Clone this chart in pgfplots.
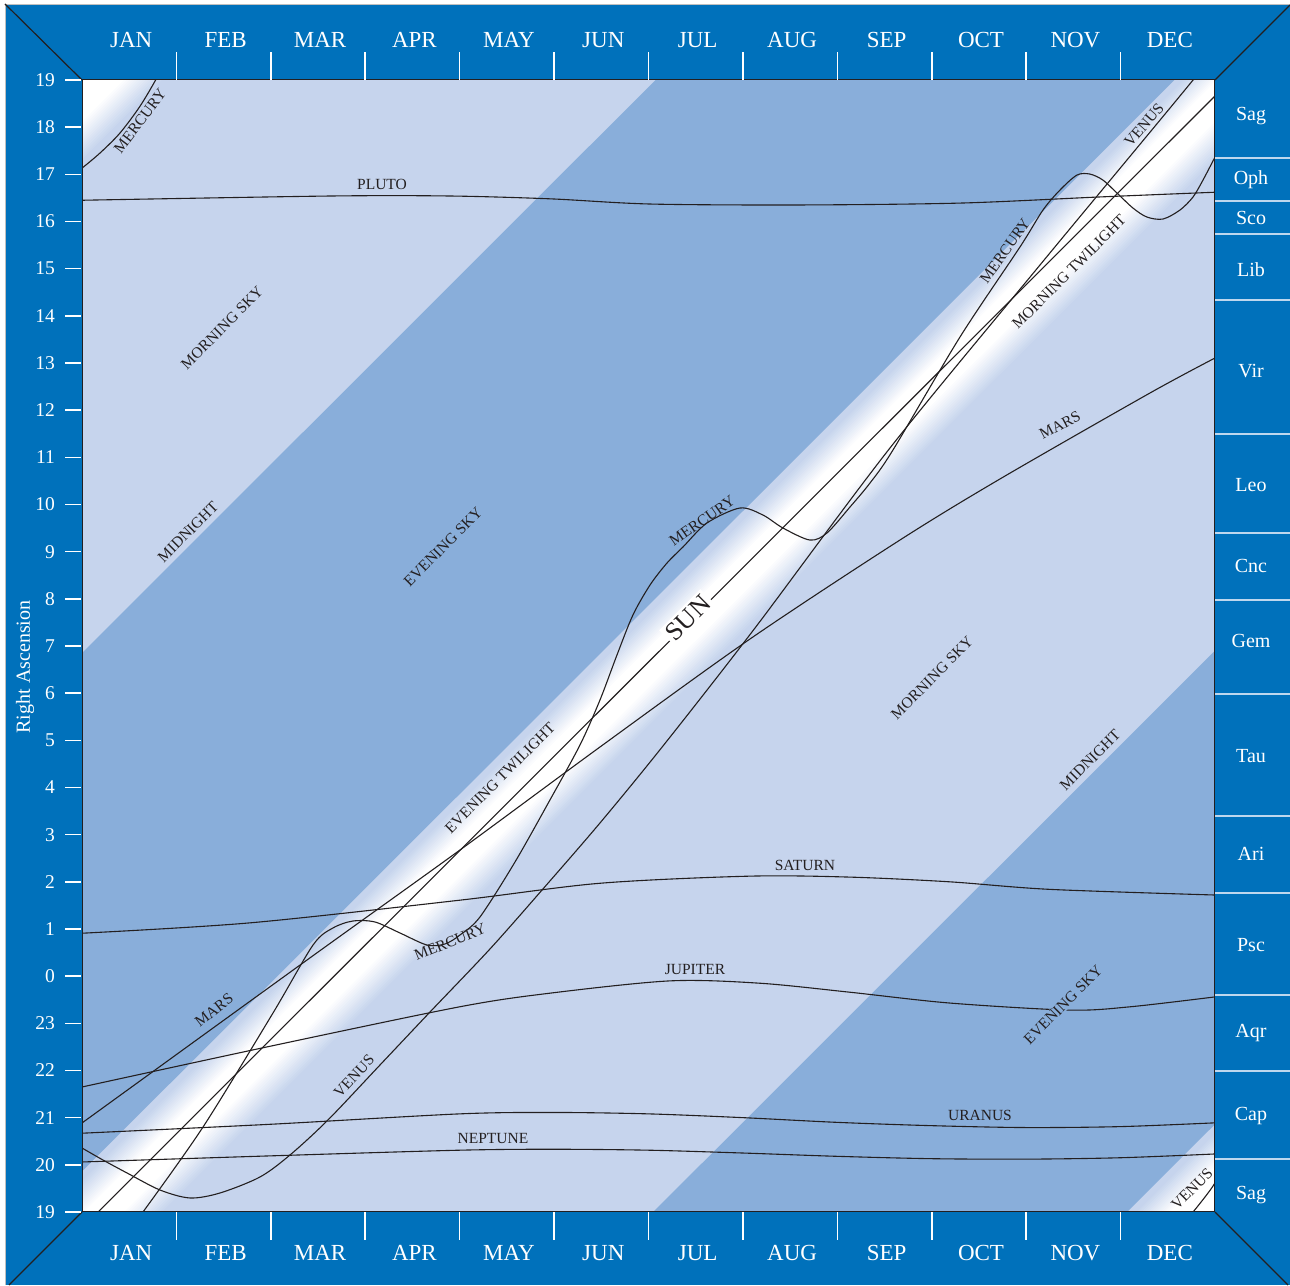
\documentclass[border=0pt]{standalone}
\usepackage{pgfplots}
\pgfplotsset{compat=1.18}
\usepackage{pgfplotstable}
\usepackage{fontspec}
\setmainfont{Liberation Serif}
\definecolor{bluec}{RGB}{0,113,187}
\definecolor{lightc}{RGB}{198,212,237}
\definecolor{medc}{RGB}{137,174,218}
\definecolor{inkc}{RGB}{35,31,32}
\definecolor{sepc}{RGB}{190,215,238}

% sun line (month, hours after 19h) used to build the twilight band
\pgfplotstableread{
m s k
0 -0.34 0
12 23.66 0
12 23.66 1
0 -0.34 1
}\bandtab

\pgfplotstableread{
m u
0 21.45
2.63 21.54
3.90 21.54
4.96 21.48
6.02 21.37
7.60 21.35
9.30 21.39
10.78 21.52
12 21.62
}\pluto

\pgfplotstableread{
m u
0 5.91
1.78 6.13
4.0 6.61
5.49 6.97
7.07 7.12
8.13 7.10
9.19 7.00
10.25 6.84
12 6.72
}\saturn

\pgfplotstableread{
m u
0 2.65
1.96 3.50
4.0 4.35
4.96 4.64
6.23 4.90
7.18 4.85
8.13 4.66
9.19 4.43
10.46 4.28
11.1 4.35
12 4.56
}\jupiter

\pgfplotstableread{
m u
0 1.67
2 1.86
4 2.08
5 2.11
6 2.08
7 2.00
8 1.90
9 1.83
10 1.79
11 1.81
12 1.89
}\uranus

\pgfplotstableread{
m u
0 1.06
2 1.19
4 1.31
5 1.33
6 1.31
7 1.25
8 1.18
9 1.13
10 1.12
11 1.15
12 1.23
}\neptune

\pgfplotstableread{
m u
0 1.887
2.383 5.342
4.003 7.674
5.486 9.858
7.075 12.148
8.663 14.246
9.722 15.540
11.311 17.363
12 18.105
}\mars

\pgfplotstableread{
m u
0 1.357
0.222 1.102
0.477 0.827
0.826 0.466
1.144 0.297
1.462 0.403
1.885 0.742
2.203 1.208
2.605 1.950
3.156 3.116
3.686 4.240
4.321 5.576
4.882 6.848
5.486 8.247
6.153 9.879
7.128 12.381
8.557 16.196
10.146 20.076
11.767 23.998
12 24.634
}\venus

\pgfplotstableread{
m u
0 22.13
0.19 22.45
0.40 22.87
0.61 23.43
0.78 24.0
0.85 24.3
}\mercurytop

\pgfplotstableread{
m u
0.646 0.000
1.282 1.802
2.023 4.219
2.447 5.660
2.658 6.021
2.870 6.169
3.103 6.148
3.368 5.915
3.654 5.660
3.844 5.682
4.003 5.872
4.215 6.254
4.586 7.420
4.956 8.734
5.274 9.900
5.486 10.854
5.666 11.808
5.835 12.656
6.016 13.292
6.196 13.759
6.365 14.098
6.619 14.607
6.969 14.925
7.212 14.776
7.424 14.501
7.710 14.246
7.890 14.395
8.134 14.946
8.346 15.455
8.589 16.154
9.299 18.550
9.934 20.458
10.178 21.242
10.358 21.666
10.538 21.984
10.676 22.005
10.813 21.878
10.962 21.603
11.131 21.285
11.279 21.094
11.449 21.052
11.629 21.242
11.767 21.518
11.873 21.878
12.000 22.366
}\mercury

% one stripe of the band: offsets #1,#2 from the sun line, #3 = percent white, #4 = shift
\newcommand{\stripe}[4]{\addplot[draw=none, fill=white!#3!lightc, forget plot] table[x=m, y expr={\thisrow{s}+(#4)+(#1)+\thisrow{k}*((#2)-(#1))}] {\bandtab};}
\newcommand{\sunband}[1]{%
\stripe{1.00}{-1.350}{7}{#1}
\stripe{0.95}{-1.293}{13}{#1}
\stripe{0.90}{-1.236}{20}{#1}
\stripe{0.85}{-1.179}{27}{#1}
\stripe{0.80}{-1.121}{33}{#1}
\stripe{0.75}{-1.064}{40}{#1}
\stripe{0.70}{-1.007}{47}{#1}
\stripe{0.65}{-0.950}{53}{#1}
\stripe{0.60}{-0.893}{60}{#1}
\stripe{0.55}{-0.836}{67}{#1}
\stripe{0.50}{-0.779}{73}{#1}
\stripe{0.45}{-0.721}{80}{#1}
\stripe{0.40}{-0.664}{87}{#1}
\stripe{0.35}{-0.607}{93}{#1}
\stripe{0.30}{-0.550}{100}{#1}
}

\begin{document}
\begin{tikzpicture}[x=1pt,y=1pt]
\fill[white] (-82,-73) rectangle (1208,1212);
\fill[bluec] (-77,-73) rectangle (1208,1208);
\draw[gray!50, line width=0.8pt] (-77,-73) -- (-77,1208) -- (1208,1208);

\begin{axis}[
  at={(0,0)}, anchor=south west,
  scale only axis, width=1133pt, height=1132pt,
  xmin=0, xmax=12, ymin=0, ymax=24,
  axis background/.style={fill=lightc},
  axis line style={draw=inkc, line width=1pt},
  axis on top,
  xtick=\empty, ytick=\empty,
  clip mode=individual,
]
% evening sky (medium blue) bands
\addplot[draw=none, fill=medc, forget plot] table[x=m, y expr={\thisrow{s}+1.2+\thisrow{k}*(12.19-1.2)}] {\bandtab};
\addplot[draw=none, fill=medc, forget plot] table[x=m, y expr={\thisrow{s}-23+1.2+\thisrow{k}*(11.24-1.2)}] {\bandtab};
% twilight band round the sun, and its wrapped copies
\sunband{0}
\sunband{24}
\sunband{-23}

% sun
\addplot[inkc, line width=1.1pt] coordinates {(0,-0.34) (12,23.66)};
% planets
\addplot[inkc, line width=1.1pt, smooth] table[x=m,y=u] {\pluto};
\addplot[inkc, line width=1.1pt, smooth] table[x=m,y=u] {\saturn};
\addplot[inkc, line width=1.1pt, smooth] table[x=m,y=u] {\jupiter};
\addplot[inkc, line width=1.1pt, smooth] table[x=m,y=u] {\uranus};
\addplot[inkc, line width=1.1pt, smooth] table[x=m,y=u] {\neptune};
\addplot[inkc, line width=1.1pt, smooth] table[x=m,y=u] {\mars};
\addplot[inkc, line width=1.1pt, smooth] table[x=m,y=u] {\venus};
\addplot[inkc, line width=1.1pt, smooth] table[x=m,y expr=\thisrow{u}-24] {\venus};
\addplot[inkc, line width=1.1pt, smooth] table[x=m,y=u] {\mercurytop};
\addplot[inkc, line width=1.1pt, smooth, tension=0.5] table[x=m,y=u] {\mercury};
\end{axis}

% corner diagonals
\draw[inkc, line width=1.2pt] (-77,1208) -- (0,1132);
\draw[inkc, line width=1.2pt] (1133,1132) -- (1208,1207);
\draw[inkc, line width=1.2pt] (0,0) -- (-73,-73);
\draw[inkc, line width=1.2pt] (1133,0) -- (1206,-73);

% month separators and labels
\foreach \i in {1,...,11} {
  \draw[white, line width=1.6pt] ({94.42*\i},1132) -- ({94.42*\i},1160);
  \draw[white, line width=1.6pt] ({94.42*\i},0) -- ({94.42*\i},-28);
}
\foreach \mo [count=\i from 0] in {JAN,FEB,MAR,APR,MAY,JUN,JUL,AUG,SEP,OCT,NOV,DEC} {
  \node[white, font=\fontsize{23}{26}\selectfont] at ({94.42*(\i+0.5)+2},1172) {\mo};
  \node[white, font=\fontsize{23}{26}\selectfont] at ({94.42*(\i+0.5)+2},-41) {\mo};
}
% hour ticks and labels
\foreach \k in {0,...,24} {
  \draw[white, line width=1.6pt] (-17,{47.167*\k}) -- (-1,{47.167*\k});
  \pgfmathtruncatemacro\lab{mod(\k+19,24)}
  \node[white, anchor=east, font=\fontsize{19.5}{22}\selectfont, inner sep=0pt] at (-27,{47.167*\k}) {\lab};
}
\node[white, rotate=90, font=\fontsize{20}{22}\selectfont] at (-57,545) {Right Ascension};

% constellations
\foreach \yy in {1054,1011,978,912,778,679,612,518,396,319,217,141,53} {
  \draw[sepc, line width=1.8pt] (1133,\yy) -- (1208,\yy);
}
\foreach \yy/\cn in {1096/Sag,1032/Oph,994/Sco,942/Lib,841/Vir,727/Leo,646/Cnc,571/Gem,456/Tau,358/Ari,267/Psc,179/Aqr,96/Cap,17/Sag} {
  \node[white, font=\fontsize{20}{22}\selectfont] at (1169,\yy) {\cn};
}

% labels in the chart
\begin{scope}[every node/.style={text=inkc, font=\fontsize{15.5}{17}\selectfont, inner sep=1pt}]
\node[rotate=53] at (58,1091) {MERCURY};
\node at (300,1028) {PLUTO};
\node[rotate=45] at (140,884) {MORNING SKY};
\node[rotate=45] at (106,680) {MIDNIGHT};
\node[rotate=45] at (361,665) {EVENING SKY};
\node[rotate=35] at (620,691) {MERCURY};
\node[rotate=55] at (923,961) {MERCURY};
\node[rotate=49] at (1062,1087) {VENUS};
\node[rotate=45] at (987,940) {MORNING TWILIGHT};
\node[rotate=28] at (978,787) {MARS};
\node[rotate=45] at (418,434) {EVENING TWILIGHT};
\node[rotate=45] at (850,534) {MORNING SKY};
\node[rotate=45] at (1008,452) {MIDNIGHT};
\node at (723,347) {SATURN};
\node at (613,242) {JUPITER};
\node[rotate=22] at (368,270) {MERCURY};
\node[rotate=38] at (132,202) {MARS};
\node[rotate=47] at (272,136) {VENUS};
\node[rotate=45, fill=medc] at (981,207) {EVENING SKY};
\node at (898,97) {URANUS};
\node at (411,73) {NEPTUNE};
\node[rotate=45] at (1110,23) {VENUS};
\node[rotate=45, fill=white, inner sep=3pt, font=\fontsize{26}{28}\selectfont] at (606,594) {SUN};
\end{scope}

\pgfresetboundingbox
\useasboundingbox (-82,-73) rectangle (1208,1212);
\end{tikzpicture}
\end{document}
